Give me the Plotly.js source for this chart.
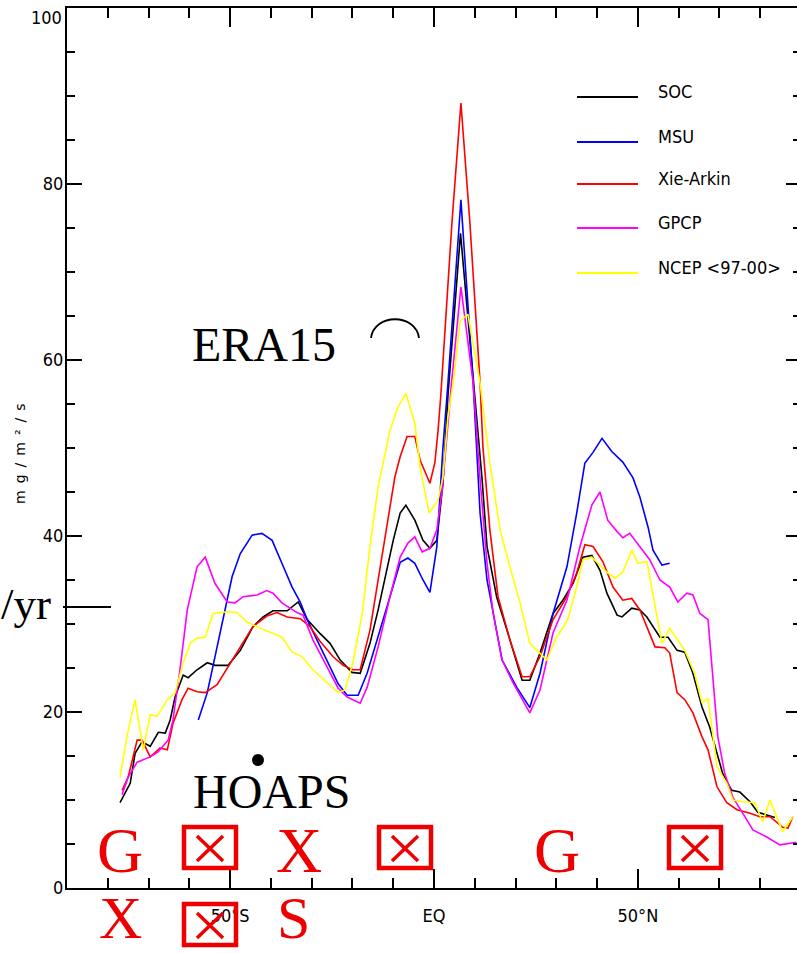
<!DOCTYPE html>
<html><head><meta charset="utf-8">
<script src="https://cdn.plot.ly/plotly-3.0.1.min.js"></script>
<style>html,body{margin:0;padding:0;overflow:hidden;background:#fff}</style>
</head><body><div id="chart" style="width:803px;height:953px"></div>
<script>
// ---- data ----
const seriesNames = ['SOC', 'MSU', 'Xie-Arkin', 'GPCP', 'NCEP <97-00>'];
const seriesColors = ['#000000', '#0000ff', '#ff0000', '#ff00ff', '#ffff00'];

const latSOC = [-77.0,-74.5,-73.3,-71.6,-69.6,-67.6,-65.9,-64.7,-63.5,-61.5,-60.3,-58.1,-55.6,-53.7,-50.5,-47.5,-44.4,-41.9,-39.5,-36.0,-33.3,-31.1,-27.9,-25.5,-23.0,-20.1,-18.1,-15.7,-13.7,-11.5,-10.0,-8.3,-6.9,-4.7,-2.7,-1.0,0.7,2.2,3.4,6.5,11.8,13.0,15.4,17.9,20.3,21.6,23.5,26.0,29.2,31.6,34.1,36.5,38.7,40.7,42.4,44.9,46.1,48.5,50.5,52.2,55.4,57.4,59.6,61.5,63.5,65.7,67.6,69.4,70.8,73.0,75.0,77.5,79.4,81.6,83.6];
const valSOC = [9.7,11.9,15.3,16.6,16.1,17.7,17.6,19.1,21.7,24.2,23.9,24.8,25.6,25.3,25.3,27.0,29.7,30.8,31.5,31.5,32.5,30.5,28.9,27.8,25.9,24.5,24.4,27.8,31.6,36.5,39.5,42.6,43.5,41.8,39.5,38.6,39.5,46.0,55.8,74.4,46.4,38.8,33.0,29.3,25.6,23.6,23.6,26.7,31.2,32.7,34.6,37.6,37.8,36.1,33.5,31.0,30.8,31.8,31.6,30.8,28.5,28.5,27.0,26.8,24.4,20.6,18.3,15.3,13.0,11.1,10.9,9.8,8.6,8.3,8.0];

const latMSU = [-57.8,-55.6,-53.7,-51.7,-49.5,-47.5,-44.6,-42.2,-39.7,-37.3,-34.8,-32.8,-31.1,-28.7,-25.5,-23.5,-21.3,-18.6,-16.4,-13.7,-10.8,-8.3,-6.4,-4.7,-2.7,-1.0,0.7,2.2,3.4,6.6,9.6,11.3,13.0,16.7,20.3,23.5,26.0,29.2,32.6,35.0,37.0,39.0,41.2,43.6,46.3,48.8,50.5,52.5,53.7,55.9,57.8];
const valMSU = [19.1,22.2,26.3,30.8,35.4,38.0,40.1,40.3,39.5,36.9,34.2,32.5,30.5,28.2,25.1,23.2,21.9,21.9,24.4,28.5,33.1,37.0,37.5,36.9,35.0,33.6,38.8,50.1,57.2,78.2,57.4,42.6,35.0,25.9,22.8,20.5,24.4,31.2,36.5,42.6,48.3,49.5,51.1,49.6,48.4,46.6,44.4,41.0,38.4,36.7,36.9];

const latXA = [-76.5,-75.0,-72.8,-71.6,-69.6,-67.2,-65.4,-64.0,-61.8,-60.3,-58.1,-56.1,-53.2,-50.5,-47.5,-44.4,-41.0,-38.5,-36.0,-32.8,-30.4,-27.9,-24.8,-22.3,-19.9,-18.1,-15.7,-13.7,-11.5,-9.6,-8.3,-6.6,-4.7,-3.4,-1.0,0.2,1.0,1.7,4.4,6.6,8.8,11.3,12.0,13.7,15.7,18.6,21.6,23.5,26.0,29.2,32.6,35.0,37.0,39.0,41.4,43.9,46.3,48.5,50.5,52.2,54.2,56.6,57.8,59.6,61.5,63.5,65.7,67.2,69.4,71.8,74.3,77.5,79.9,82.4,85.5,86.8,88.0];
const valXA = [11.1,12.6,16.8,16.8,14.9,15.9,15.7,18.7,21.4,22.7,22.3,22.2,23.1,25.1,27.4,29.7,30.9,31.3,30.8,30.6,29.7,28.0,26.3,25.3,24.8,24.8,29.3,35.0,41.5,46.7,49.0,51.3,51.3,48.6,46.0,48.3,52.0,56.2,75.6,89.2,75.6,57.4,50.1,40.7,33.1,28.2,24.0,24.0,26.3,30.5,33.1,35.8,39.0,38.8,37.1,34.2,32.7,32.9,31.6,29.7,27.4,27.3,26.7,22.2,21.4,19.9,17.2,15.7,11.5,9.7,8.9,8.5,8.1,8.1,6.9,6.8,8.1];

const latGPCP = [-76.5,-75.0,-72.8,-69.6,-67.6,-65.2,-64.0,-62.3,-60.5,-58.1,-56.1,-53.7,-50.7,-48.8,-46.8,-43.4,-41.0,-39.5,-37.3,-33.6,-32.1,-29.7,-26.2,-23.5,-21.3,-18.1,-16.4,-13.7,-10.8,-8.3,-6.4,-4.7,-2.9,-1.0,0.7,2.0,4.3,6.6,9.6,11.3,13.0,14.5,16.7,19.4,23.5,26.0,29.2,32.6,35.8,38.7,40.7,42.6,44.9,46.3,48.0,50.5,52.9,55.4,57.8,59.8,62.0,63.5,65.2,67.2,68.4,69.6,71.3,73.3,75.7,78.2,81.6,84.8,88.9];
const valGPCP = [10.6,12.6,14.3,14.9,15.5,16.8,19.1,24.8,31.6,36.5,37.6,34.6,32.5,32.4,33.1,33.3,33.8,33.5,32.4,31.3,31.0,28.2,25.1,22.7,21.7,21.0,22.8,27.4,33.1,37.6,39.2,39.9,38.2,38.6,40.7,45.2,57.4,68.3,57.4,46.4,36.9,31.2,25.9,23.3,19.9,22.5,29.0,32.7,38.8,43.5,45.0,41.8,40.5,39.8,40.3,38.8,37.3,35.0,34.2,32.5,33.5,33.3,31.2,30.5,23.6,17.2,13.0,10.3,8.5,6.6,5.8,4.9,5.2];

const latNCEP = [-77.0,-75.3,-73.3,-71.3,-69.6,-67.9,-65.4,-63.5,-61.5,-59.8,-58.1,-56.1,-54.2,-50.5,-48.3,-45.8,-43.4,-40.2,-37.3,-34.8,-32.4,-29.7,-26.2,-23.5,-21.8,-19.9,-17.6,-15.7,-13.7,-10.8,-8.8,-6.9,-4.7,-3.4,-1.2,1.0,2.2,3.4,4.7,6.4,8.3,11.3,13.7,16.2,18.6,21.1,23.5,26.0,27.7,29.7,32.8,35.0,36.5,38.7,40.7,42.6,44.4,46.3,48.5,50.0,52.2,54.2,55.9,57.8,61.5,63.9,65.7,67.2,69.4,71.8,73.3,75.7,78.7,80.6,82.4,84.1,85.5,88.0];
const valNCEP = [12.6,17.2,21.4,15.7,19.7,19.5,21.4,22.2,25.6,27.8,28.4,28.5,31.2,31.4,31.3,30.2,29.7,29.1,28.5,26.8,26.3,24.8,23.3,22.2,22.5,25.6,31.2,38.8,45.6,52.0,54.7,56.2,52.8,47.8,42.6,44.1,46.7,53.5,57.4,64.4,65.2,57.4,48.3,40.7,36.5,32.4,27.8,26.7,25.9,28.2,30.5,34.2,37.3,37.6,36.7,35.8,35.2,35.9,38.4,36.9,37.1,31.9,27.8,29.5,27.0,24.4,21.1,21.5,13.8,11.9,10.0,9.8,9.7,7.5,10.0,8.0,6.4,8.1];

const xTickVals = [-50, 0, 50];
const xTickText = ['50°S', 'EQ', '50°N'];
const yTickVals = [0, 20, 40, 60, 80, 100];
const yTickText = ['0', '20', '40', '60', '80', '100'];
const yTitle = 'mg/m²/s';

// ---- figure geometry (pixels) ----
const FIG_W = 803, FIG_H = 953;
const M = {l: 67, r: 2, t: 8, b: 65};
const PW = FIG_W - M.l - M.r, PH = FIG_H - M.t - M.b;
const px = x => (x - M.l) / PW;
const py = y => (FIG_H - M.b - y) / PH;

const narrow = '"Liberation Sans Narrow", "DejaVu Sans Condensed", "Liberation Sans", sans-serif';
const serif = '"Liberation Serif", "DejaVu Serif", serif';
const RED = '#ee0000';

const lats = [latSOC, latMSU, latXA, latGPCP, latNCEP];
const vals = [valSOC, valMSU, valXA, valGPCP, valNCEP];
const traces = seriesNames.map((n, i) => ({
  type: 'scatter', mode: 'lines', name: n, x: lats[i], y: vals[i],
  line: {color: seriesColors[i], width: 1.6}, showlegend: false, hoverinfo: 'skip'
}));

const shapes = [];
const annotations = [];

// legend (drawn by hand so the line samples are as long as in the original)
const legendY = [97, 142, 184, 228, 273];
seriesNames.forEach((n, i) => {
  shapes.push({type: 'line', xref: 'paper', yref: 'paper',
    x0: px(577), x1: px(638), y0: py(legendY[i]), y1: py(legendY[i]),
    line: {color: seriesColors[i], width: 2.2}});
  annotations.push({xref: 'paper', yref: 'paper', x: px(656), y: py(legendY[i] - 6),
    xanchor: 'left', yanchor: 'middle', showarrow: false, text: n,
    font: {family: narrow, size: 18, color: '#000'}});
});

// top tick label: drawn a little lower than its tick (as in the original), so it stays inside the page
const topIdx = yTickVals.length - 1;
const yTickTextAxis = yTickText.map((t, i) => (i === topIdx ? '' : t));
annotations.push({xref: 'paper', yref: 'paper', x: px(64), y: py(17), xanchor: 'right',
  yanchor: 'middle', showarrow: false, text: yTickText[topIdx],
  font: {family: narrow, size: 18, color: '#000'}});

// y axis title
annotations.push({xref: 'paper', yref: 'paper', x: px(20), y: py(450), textangle: -90,
  xanchor: 'center', yanchor: 'middle', showarrow: false,
  text: '<span style="letter-spacing:7px">' + yTitle + '</span>',
  font: {family: '"DejaVu Sans", sans-serif', size: 14, color: '#000'}});

// overlaid words
function word(t, cx, cy, size, color) {
  annotations.push({xref: 'paper', yref: 'paper', x: px(cx), y: py(cy), xanchor: 'center',
    yanchor: 'middle', showarrow: false, text: t, font: {family: serif, size: size, color: color}});
}
function wordBottom(t, cx, size, color) {
  annotations.push({xref: 'paper', yref: 'paper', x: px(cx), y: py(952), xanchor: 'center',
    yanchor: 'bottom', borderpad: 0, showarrow: false, text: t,
    font: {family: serif, size: size, color: color}});
}
word('ERA15', 264, 344, 48, '#000');
word('HOAPS', 271, 791, 48, '#000');
annotations.push({xref: 'paper', yref: 'paper', x: px(53), y: py(604), xanchor: 'right',
  yanchor: 'middle', showarrow: false, text: '/yr', font: {family: serif, size: 45, color: '#000'}});
shapes.push({type: 'line', xref: 'paper', yref: 'paper', x0: px(63), x1: px(111),
  y0: py(607), y1: py(607), line: {color: '#000', width: 2}});
// small arc
shapes.push({type: 'path', xref: 'paper', yref: 'paper',
  path: `M ${px(371)} ${py(338)} C ${px(374)} ${py(313)}, ${px(416)} ${py(313)}, ${px(419)} ${py(338)}`,
  line: {color: '#000', width: 1.8}});
// dot
shapes.push({type: 'circle', xref: 'paper', yref: 'paper', x0: px(252), x1: px(264),
  y0: py(754), y1: py(766), fillcolor: '#000', line: {width: 0}});

// red letters and crossed boxes
word('G', 120, 850, 64, RED);
word('X', 299, 850, 64, RED);
word('G', 557, 850, 64, RED);
wordBottom('X', 120, 60, RED);
wordBottom('S', 293, 60, RED);
function xbox(x0, y0) {
  const w = 56, h = 45;
  shapes.push({type: 'rect', xref: 'paper', yref: 'paper', x0: px(x0 + 2), x1: px(x0 + w - 2),
    y0: py(y0 + 2), y1: py(y0 + h - 2), line: {color: RED, width: 4.5}, fillcolor: 'rgba(0,0,0,0)'});
  shapes.push({type: 'line', xref: 'paper', yref: 'paper', x0: px(x0 + 15), x1: px(x0 + 41),
    y0: py(y0 + 11), y1: py(y0 + 36), line: {color: RED, width: 3.5}});
  shapes.push({type: 'line', xref: 'paper', yref: 'paper', x0: px(x0 + 41), x1: px(x0 + 15),
    y0: py(y0 + 11), y1: py(y0 + 36), line: {color: RED, width: 3.5}});
}
xbox(182, 825); xbox(377, 825); xbox(667, 825); xbox(182, 902);

const axisCommon = {showline: true, linecolor: '#000', linewidth: 2, mirror: 'ticks',
  ticks: 'inside', tickcolor: '#000', tickwidth: 2, showgrid: false, zeroline: false,
  tickfont: {family: narrow, size: 18, color: '#000'}};

const layout = {
  width: FIG_W, height: FIG_H, margin: M, paper_bgcolor: '#fff', plot_bgcolor: '#fff',
  showlegend: false,
  xaxis: Object.assign({}, axisCommon, {range: [-90, 90], tickmode: 'array',
    tickvals: xTickVals, ticktext: xTickText, ticklen: 19, ticklabelstandoff: 10,
    minor: {tickmode: 'linear', tick0: 0, dtick: 10, ticks: 'inside', ticklen: 10,
      tickwidth: 2, tickcolor: '#000', showgrid: false}}),
  yaxis: Object.assign({}, axisCommon, {range: [0, 100], tickmode: 'array',
    tickvals: yTickVals, ticktext: yTickTextAxis, ticklen: 15, ticklabelstandoff: -2,
    minor: {tickmode: 'linear', tick0: 0, dtick: 5, ticks: 'inside', ticklen: 8,
      tickwidth: 2, tickcolor: '#000', showgrid: false}}),
  shapes: shapes, annotations: annotations
};

Plotly.newPlot('chart', traces, layout, {staticPlot: true, displayModeBar: false});
</script></body></html>
